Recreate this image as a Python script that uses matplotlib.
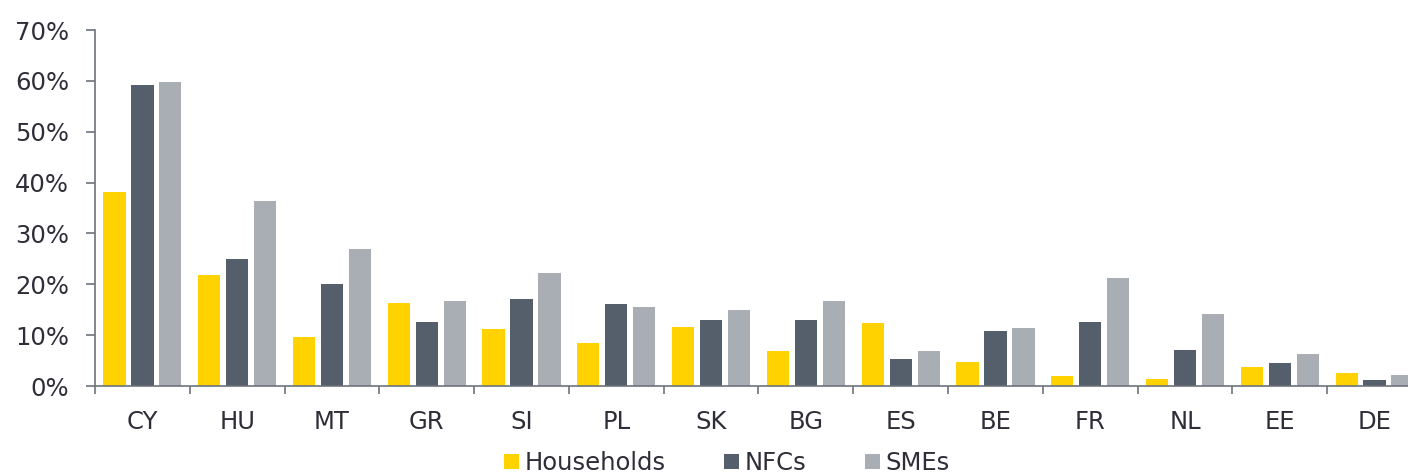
import numpy as np
import matplotlib.pyplot as plt
from matplotlib.ticker import PercentFormatter

# ------------------------
# Data
# ------------------------
countries = ["CY", "HU", "MT", "GR", "SI", "PL", "SK", "BG", "ES", "BE", "FR", "NL", "EE", "DE"]
households = [38.1, 21.8, 9.6, 16.3, 11.3, 8.4, 11.6, 6.9, 12.4, 4.8, 2.0, 1.4, 3.8, 2.6]
nfcs = [59.1, 25.0, 20.1, 12.6, 17.1, 16.2, 13.0, 13.0, 5.4, 10.9, 12.6, 7.1, 4.6, 1.2]
smes = [59.8, 36.4, 26.9, 16.8, 22.2, 15.5, 14.9, 16.7, 6.8, 11.4, 21.2, 14.1, 6.3, 2.1]

series_names = ["Households", "NFCs", "SMEs"]
colors = ["#FFD200", "#555F6B", "#A8AEB4"]
text_color = "#2E2E38"
axis_color = "#6D737C"

plt.rcParams["font.family"] = ["DejaVu Sans"]

fig = plt.figure(figsize=(14.08, 4.75), dpi=100)
# axes run past the right edge, as in the reference (DE group is cut)
ax = fig.add_axes([95 / 1408, 89 / 475, 1327 / 1408, 356 / 475])

x = np.arange(len(countries))
offset = 0.295
width = 0.235
for i, (vals, name, col) in enumerate(zip([households, nfcs, smes], series_names, colors)):
    ax.bar(x + (i - 1) * offset, vals, width=width, color=col, label=name, zorder=2)

ax.set_xlim(-0.5, len(countries) - 0.5)
ax.set_ylim(0, 70)
ax.set_yticks(np.arange(0, 71, 10))
ax.yaxis.set_major_formatter(PercentFormatter(decimals=0))

ax.set_xticks(x)
ax.set_xticklabels(countries)
ax.set_xticks(np.arange(-0.5, len(countries)), minor=True)

for s in ["top", "right"]:
    ax.spines[s].set_visible(False)
for s in ["left", "bottom"]:
    ax.spines[s].set_color(axis_color)
    ax.spines[s].set_linewidth(1.2)

ax.tick_params(axis="x", which="major", length=0, pad=17, labelsize=17.5, labelcolor=text_color)
ax.tick_params(axis="x", which="minor", length=6, width=1.2, color=axis_color)
ax.tick_params(axis="y", length=6.5, width=1.2, color=axis_color, pad=12,
               labelsize=17.5, labelcolor=text_color)

ax.legend(loc="center", bbox_to_anchor=(727 / 1408, 12 / 475), bbox_transform=fig.transFigure,
          ncol=3, frameon=False, fontsize=17.5, labelcolor=text_color,
          handlelength=0.6, handleheight=0.6, handletextpad=0.25, columnspacing=2.4)

fig.savefig("out.png", dpi=100)
